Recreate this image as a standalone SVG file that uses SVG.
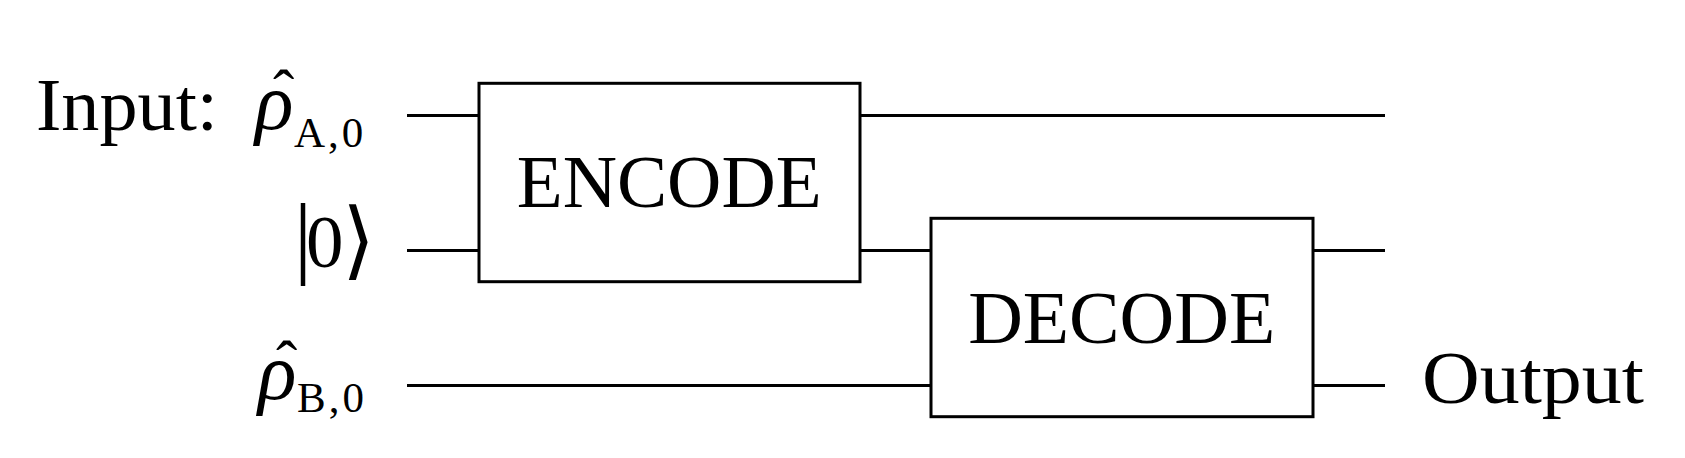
<svg xmlns="http://www.w3.org/2000/svg" width="1685" height="458" viewBox="0 0 1685 458">
<style>
.t{font-family:"Liberation Serif","Times New Roman",serif;fill:#000}
.big{font-size:75px}
.sub{font-size:43px;letter-spacing:3px}
.rho{font-size:80px;font-style:italic}
.hat{font-size:64px}
.box{fill:#fff;stroke:#000;stroke-width:3}
.w{stroke:#000;stroke-width:3;fill:none}
</style>
<rect width="1685" height="458" fill="#fff"/>
<g id="connectors">
<line class="w" x1="407" y1="115.5" x2="479" y2="115.5"/>
<line class="w" x1="860" y1="115.5" x2="1385" y2="115.5"/>
<line class="w" x1="407" y1="250.5" x2="479" y2="250.5"/>
<line class="w" x1="860" y1="250.5" x2="931" y2="250.5"/>
<line class="w" x1="1313" y1="250.5" x2="1385" y2="250.5"/>
<line class="w" x1="407" y1="385.5" x2="931" y2="385.5"/>
<line class="w" x1="1313" y1="385.5" x2="1385" y2="385.5"/>
</g>
<g id="label-input">
<text class="t big" x="36" y="130" textLength="182" lengthAdjust="spacingAndGlyphs">Input:</text>
<text class="t"><tspan class="rho" x="255" y="129">ρ</tspan><tspan class="hat" x="273" y="114">ˆ</tspan><tspan class="sub" x="294" y="147">A,0</tspan></text>
</g>
<g id="label-ket">
<text class="t" y="267"><tspan x="294" style="font-size:90px">|</tspan><tspan x="306" style="font-size:75px">0</tspan><tspan x="342" dy="2" style="font-family:'DejaVu Serif',serif;font-size:85px">⟩</tspan></text>
</g>
<g id="label-b">
<text class="t"><tspan class="rho" x="258" y="399">ρ</tspan><tspan class="hat" x="276" y="385">ˆ</tspan><tspan class="sub" x="297" y="412">B,0</tspan></text>
</g>
<g id="encode">
<rect class="box" x="479" y="83.3" width="381" height="198.4"/>
<text class="t big" x="669.2" y="207.3" text-anchor="middle" textLength="305" lengthAdjust="spacingAndGlyphs">ENCODE</text>
</g>
<g id="decode">
<rect class="box" x="931" y="218.3" width="382" height="198.4"/>
<text class="t big" x="1121.7" y="342.7" text-anchor="middle" textLength="307" lengthAdjust="spacingAndGlyphs">DECODE</text>
</g>
<g id="label-output">
<text class="t big" x="1422" y="402.7" textLength="222" lengthAdjust="spacingAndGlyphs">Output</text>
</g>
</svg>
